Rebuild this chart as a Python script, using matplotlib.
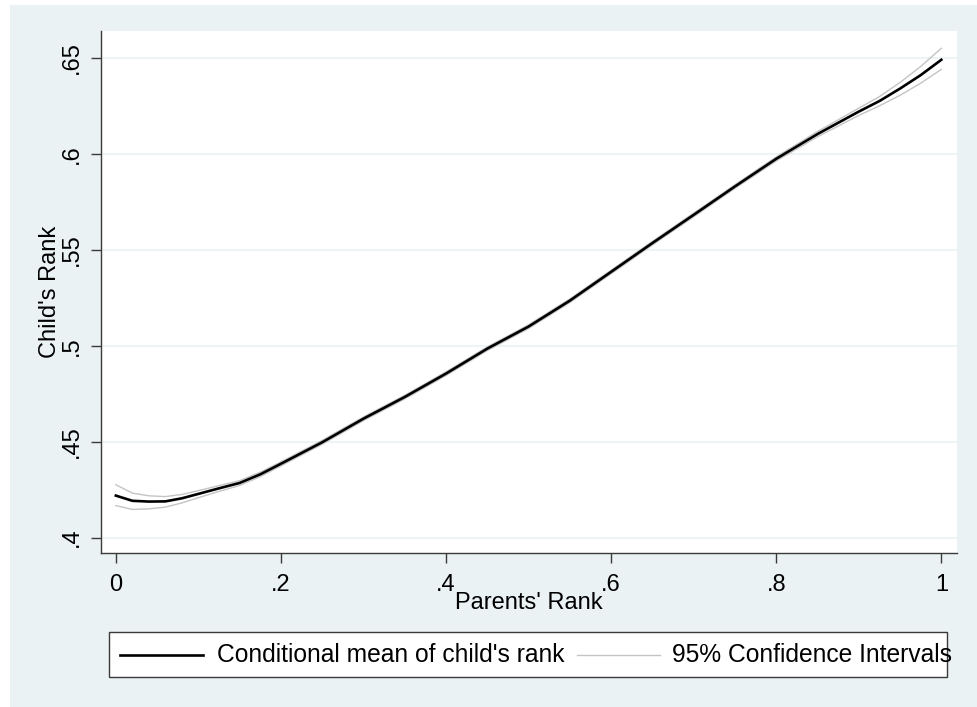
import matplotlib
matplotlib.use('Agg')
import matplotlib.pyplot as plt
from matplotlib.patches import Rectangle
from matplotlib.lines import Line2D

# Values
parent_rank = [0.0, 0.02, 0.04, 0.06, 0.08, 0.10, 0.125, 0.15, 0.175, 0.2,
               0.25, 0.3, 0.35, 0.4, 0.45, 0.5, 0.55, 0.6, 0.65, 0.7,
               0.75, 0.8, 0.85, 0.9, 0.925, 0.95, 0.975, 1.0]
child_mean = [0.4219, 0.4192, 0.4188, 0.4189, 0.4205, 0.4228, 0.4257, 0.4285, 0.4330, 0.4385,
              0.4497, 0.4620, 0.4733, 0.4855, 0.4985, 0.5100, 0.5235, 0.5385, 0.5535, 0.5682,
              0.5830, 0.5974, 0.6103, 0.6220, 0.6275, 0.6340, 0.6410, 0.6490]
ci_upper = [0.4276, 0.4232, 0.4218, 0.4214, 0.4225, 0.4245, 0.4271, 0.4297, 0.4341, 0.4395,
            0.4507, 0.4629, 0.4742, 0.4864, 0.4994, 0.5109, 0.5244, 0.5394, 0.5544, 0.5691,
            0.5839, 0.5984, 0.6116, 0.6238, 0.6298, 0.6372, 0.6455, 0.6550]
ci_lower = [0.4167, 0.4147, 0.4150, 0.4159, 0.4181, 0.4208, 0.4241, 0.4272, 0.4318, 0.4374,
            0.4487, 0.4610, 0.4723, 0.4845, 0.4975, 0.5090, 0.5225, 0.5375, 0.5525, 0.5672,
            0.5820, 0.5963, 0.6089, 0.6200, 0.6250, 0.6305, 0.6368, 0.6440]

x_ticks = [0, 0.2, 0.4, 0.6, 0.8, 1.0]
x_tick_labels = ["0", ".2", ".4", ".6", ".8", "1"]
y_ticks = [0.40, 0.45, 0.50, 0.55, 0.60, 0.65]
y_tick_labels = [".4", ".45", ".5", ".55", ".6", ".65"]

legend_labels = ["Conditional mean of child's rank", "95% Confidence Intervals"]

BG = "#EAF2F3"
AXIS = "#3a3a3a"
CI_COLOR = "#c4c4c4"
FS = 17
LEG_FS = 17.7

plt.rcParams['font.family'] = ['Liberation Sans', 'DejaVu Sans']

W, H = 977, 707
fig = plt.figure(figsize=(W / 100, H / 100), dpi=100, facecolor="white")

def fx(px):
    return px / W

def fy(py):
    return 1 - py / H

# Stata-like outer graph region
fig.add_artist(Rectangle((fx(10), 0), 1 - fx(10), fy(5), transform=fig.transFigure,
                         facecolor=BG, edgecolor="none", zorder=0))

ax = fig.add_axes([fx(101), fy(553), fx(957) - fx(101), fy(31) - fy(553)])
ax.set_facecolor("white")

ax.plot(parent_rank, ci_upper, color=CI_COLOR, lw=1.0, zorder=2)
ax.plot(parent_rank, ci_lower, color=CI_COLOR, lw=1.0, zorder=2)
ax.plot(parent_rank, child_mean, color="black", lw=1.9, zorder=3)

ax.set_xlim(-0.018, 1.019)
ax.set_ylim(0.392, 0.664)

ax.set_xticks(x_ticks)
ax.set_xticklabels(x_tick_labels, fontsize=FS)
ax.set_yticks(y_ticks)
ax.set_yticklabels(y_tick_labels, fontsize=FS, rotation=90, va="center")

ax.grid(axis="y", color=BG, lw=1.2, zorder=1)
ax.set_axisbelow(True)

for side in ["top", "right"]:
    ax.spines[side].set_visible(False)
for side in ["left", "bottom"]:
    ax.spines[side].set_color(AXIS)
    ax.spines[side].set_linewidth(1.0)

ax.tick_params(axis="both", direction="out", length=7, width=1.0, color=AXIS)
ax.tick_params(axis="x", pad=8)
ax.tick_params(axis="y", pad=6)

# axis titles (Stata overlaps the y title with tick labels)
fig.text(fx(50), fy(292), "Child's Rank", rotation=90, ha="center", va="center", fontsize=FS)
fig.text(fx(529), fy(603), "Parents' Rank", ha="center", va="center", fontsize=FS)

# legend box drawn by hand to mimic Stata layout
fig.add_artist(Rectangle((fx(109), fy(677)), fx(947) - fx(109), fy(632) - fy(677),
                         transform=fig.transFigure, facecolor="white",
                         edgecolor=AXIS, lw=1.0, zorder=2))
ly = fy(655)
fig.add_artist(Line2D([fx(120), fx(203)], [ly, ly], transform=fig.transFigure,
                      color="black", lw=1.9, zorder=3))
fig.text(fx(217), ly, legend_labels[0], ha="left", va="center", fontsize=LEG_FS, zorder=3)
fig.add_artist(Line2D([fx(577), fx(660)], [ly, ly], transform=fig.transFigure,
                      color=CI_COLOR, lw=1.0, zorder=3))
fig.text(fx(672), ly, legend_labels[1], ha="left", va="center", fontsize=LEG_FS, zorder=3)

fig.savefig("out.png", dpi=100, facecolor=fig.get_facecolor())
